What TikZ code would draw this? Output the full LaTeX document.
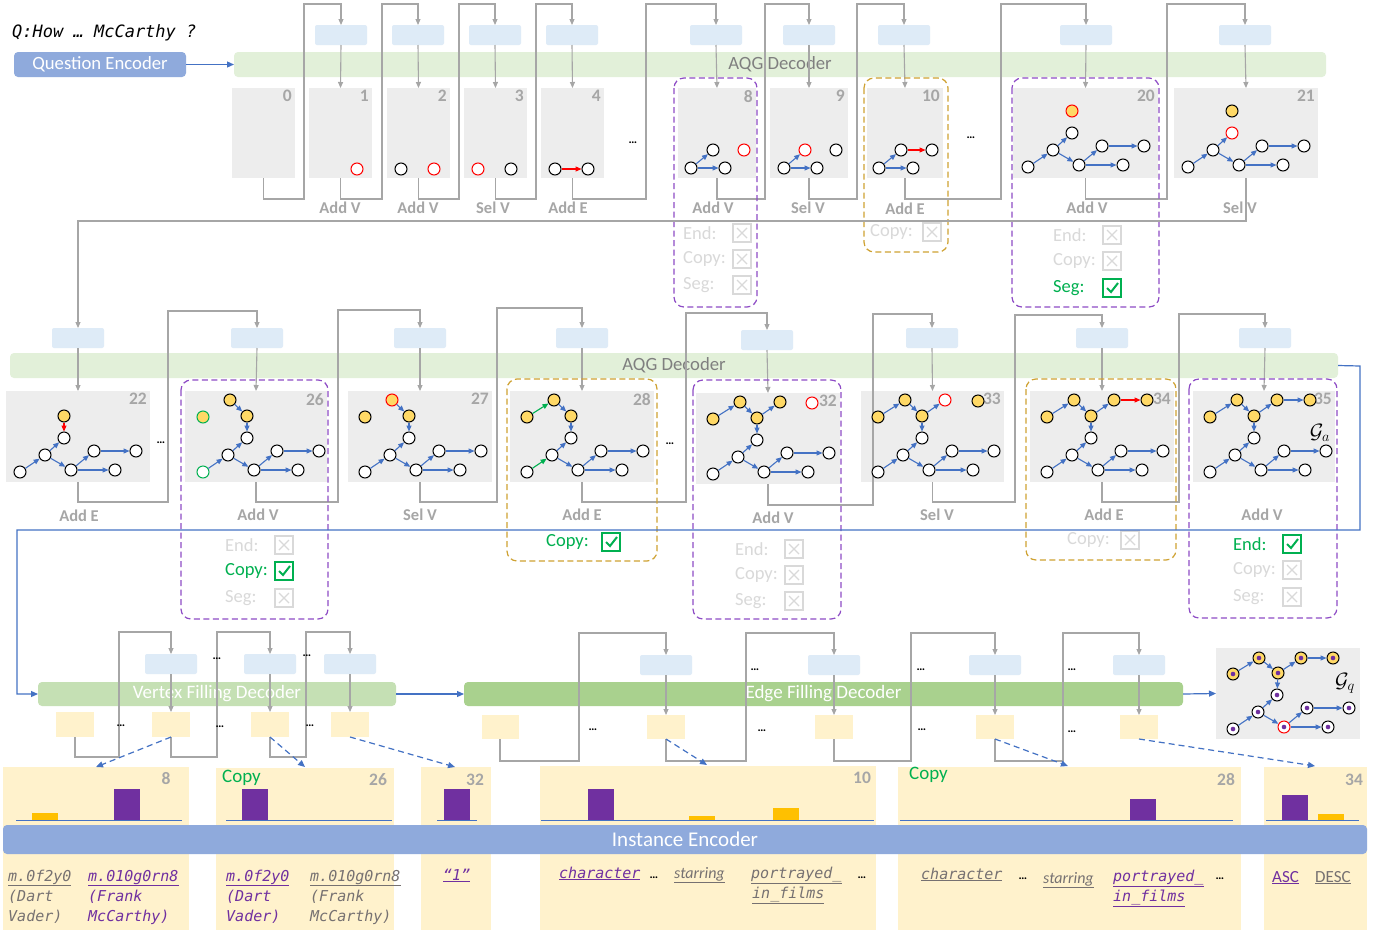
\documentclass[tikz,border=0pt]{standalone}
\usepackage{fontspec}
\setmainfont{Carlito}
\newfontfamily\codefont{DejaVu Sans Mono}
\usetikzlibrary{arrows.meta,calc}
\definecolor{cgray}{HTML}{EDEDED}
\definecolor{cblue}{HTML}{DEEBF7}
\definecolor{cgreen}{HTML}{E2F0D9}
\definecolor{cvfd}{HTML}{C5E0B4}
\definecolor{cefd}{HTML}{A9D18E}
\definecolor{cenc}{HTML}{8FAADC}
\definecolor{cyel}{HTML}{FFF2CC}
\definecolor{cnode}{HTML}{FFD966}
\definecolor{cpur}{HTML}{7030A0}
\definecolor{cdpur}{HTML}{8E4CC6}
\definecolor{cgold}{HTML}{FFC000}
\definecolor{cdgold}{HTML}{CFA232}
\definecolor{cchk}{HTML}{00B050}
\definecolor{carrow}{HTML}{4472C4}
\definecolor{cline}{HTML}{A6A6A6}
\definecolor{clabel}{HTML}{A6A6A6}
\definecolor{clight}{HTML}{D9D9D9}
\definecolor{ctxt}{HTML}{767171}
\definecolor{cband}{HTML}{7F7F7F}
\newcommand{\fsz}[1]{\fontsize{#1}{#1}\selectfont}
\tikzset{
  sbox/.style={fill=cgray, draw=none, anchor=north west, inner sep=0pt, outer sep=0pt},
  bbox/.style={fill=cblue, draw=none, rounded corners=2pt, minimum width=52pt, minimum height=20pt, inner sep=0pt, outer sep=0pt},
  ybox/.style={fill=cyel, draw=none, minimum width=38pt, minimum height=25pt, inner sep=0pt, outer sep=0pt},
  band/.style={draw=none, rounded corners=4pt, inner sep=0pt, outer sep=0pt, font=\fsz{18.7}},
  num/.style={font=\fsz{17.5}\bfseries, text=clabel, anchor=north east, inner sep=0pt},
  stlbl/.style={font=\fsz{16.5}\bfseries, text=clabel, inner sep=0pt},
  dots/.style={font=\fsz{12}\bfseries, inner sep=0pt},
  gv/.style={circle, draw=black, fill=white, line width=1pt, minimum size=12pt, inner sep=0pt},
  gvy/.style={gv, fill=cnode},
  gvp/.style={path picture={\fill[cpur] (path picture bounding box.center) circle (2.3pt);}},
  ge/.style={draw=carrow, line width=1.1pt, -{Triangle[length=6pt,width=5pt]}},
  ger/.style={ge, draw=red},
  geg/.style={ge, draw=cchk},
  gloop/.style={draw=cline, line width=1.1pt, -{Triangle[length=6pt,width=5pt]}},
  barr/.style={draw=carrow, line width=1.2pt, -{Triangle[length=7pt,width=6pt]}},
  darr/.style={draw=carrow, line width=1.2pt, dash pattern=on 6pt off 4pt, -{Triangle[length=7pt,width=6pt]}},
  pdash/.style={draw=cdpur, line width=1.2pt, dash pattern=on 6pt off 3.5pt, rounded corners=10pt},
  gdash/.style={draw=cdgold, line width=1.2pt, dash pattern=on 6pt off 3.5pt, rounded corners=10pt},
  chklbl/.style={font=\fsz{18.5}, anchor=west, inner sep=0pt},
  code/.style={font=\codefont\itshape\fsz{15}, inner sep=0pt, anchor=base west},
  gall/.style={}, s1/.style={}, s2/.style={}, s3/.style={}, s4/.style={},
  s5/.style={}, s6/.style={}, s7/.style={}, e12/.style={}
}
\newcommand{\stepbx}[6]{%
  \node[sbox, minimum width={#4-#2}, minimum height={#5-#3}] (#1) at (#2,#3) {};
  \node[num] (#1num) at (#4-3,#3+2) {#6};}
\newcommand{\panelbx}[5]{%
  \node[fill=cyel, draw=none, anchor=north west, inner sep=0pt, outer sep=0pt, minimum width={#4-#2}, minimum height={#5-#3}] (#1) at (#2,#3) {};}
\newcommand{\basegr}[4][]{%
  \begin{scope}[shift={(#3,#4)},#1]
  \node[gv,gall,s1] (#2n1) at (17,81) {};
  \node[gv,gall,s2] (#2n2) at (42,64) {};
  \node[gv,gall,s3] (#2n3) at (61,47) {};
  \node[gv,gall,s4] (#2n4) at (68,79) {};
  \node[gv,gall,s5] (#2n5) at (91,60) {};
  \node[gv,gall,s6] (#2n6) at (133,60) {};
  \node[gv,gall,s7] (#2n7) at (112,79) {};
  \draw[ge,e12] (#2n1) -- (#2n2);
  \draw[ge] (#2n2) -- (#2n3);
  \draw[ge] (#2n2) -- (#2n4);
  \draw[ge] (#2n4) -- (#2n5);
  \draw[ge] (#2n5) -- (#2n6);
  \draw[ge] (#2n4) -- (#2n7);
  \end{scope}}
\newcommand{\tops}[3]{\begin{scope}[shift={(#1,#2)}]#3\end{scope}}
\newcommand{\ckbx}[3]{%
  \ifnum#3=1
    \draw[cchk, line width=2pt] (#1-9,#2-9) rectangle (#1+9,#2+9);
    \draw[cchk, line width=2pt] (#1-5,#2) -- (#1-1,#2+4) -- (#1+6,#2-5);
  \else
    \draw[clight, line width=1.8pt] (#1-9,#2-9) rectangle (#1+9,#2+9);
    \draw[clight, line width=1.2pt] (#1-5,#2-5) -- (#1+5,#2+5) (#1-5,#2+5) -- (#1+5,#2-5);
  \fi}
\newcommand{\chkrow}[5]{%
  \ifnum#5=1 \node[chklbl, text=cchk] at (#1,#3) {#4};\else \node[chklbl, text=clight] at (#1,#3) {#4};\fi
  \ckbx{#2}{#3}{#5}}
\begin{document}
\begin{tikzpicture}[x=1pt,y=-1pt]
\useasboundingbox (0,0) rectangle (1385,935);
\fill[white] (0,0) rectangle (1385,935);

% ---------------- Row 1 ----------------
\node[font=\codefont\itshape\fsz{17}, anchor=west, inner sep=0pt] (q) at (12,33) {Q:How … McCarthy ?};
\node[band, fill=cenc, text=white, minimum width=172pt, minimum height=25pt] (qe) at (100,64.5) {Question Encoder};
\node[band, fill=cgreen, text=cband, minimum width=1092pt, minimum height=25pt] (aqg1) at (780,64.5) {AQG Decoder};
\draw[barr] (qe.east) -- (aqg1.west);

\stepbx{b0}{232}{88}{295}{178}{0}
\stepbx{b1}{309}{88}{372}{178}{1}
\stepbx{b2}{387}{88}{450}{178}{2}
\stepbx{b3}{464}{88}{527}{178}{3}
\stepbx{b4}{541}{88}{604}{178}{4}
\stepbx{b8}{678}{88}{756}{178}{8}
\stepbx{b9}{770}{88}{848}{178}{9}
\stepbx{b10}{867}{88}{943}{178}{10}
\stepbx{b20}{1013}{88}{1158}{178}{20}
\stepbx{b21}{1174}{88}{1318}{178}{21}

\node[bbox] (bb1) at (341,35) {};
\node[bbox] (bb2) at (418,35) {};
\node[bbox] (bb3) at (495,35) {};
\node[bbox] (bb4) at (572,35) {};
\node[bbox] (bb8) at (716,35) {};
\node[bbox] (bb9) at (809,35) {};
\node[bbox] (bb10) at (904,35) {};
\node[bbox] (bb20) at (1086,35) {};
\node[bbox] (bb21) at (1245,35) {};

\node[stlbl] (l1) at (340,208) {Add V};
\node[stlbl] (l2) at (418,208) {Add V};
\node[stlbl] (l3) at (493,208) {Sel V};
\node[stlbl] (l4) at (568,208) {Add E};
\node[stlbl] (l8) at (713,208) {Add V};
\node[stlbl] (l9) at (808,208) {Sel V};
\node[stlbl] (l10) at (905,209) {Add E};
\node[stlbl] (l20) at (1087,208) {Add V};
\node[stlbl] (l21) at (1240,208) {Sel V};
\node[dots] (d1) at (633,143) {…};
\node[dots] (d2) at (971,138) {…};

\draw[gloop] (b0.south) |- (304,199) -- (304,4) -| (bb1.north);
\draw[gloop] (b1.south) |- (382,199) -- (382,4) -| (bb2.north);
\draw[gloop] (b2.south) |- (459,199) -- (459,4) -| (bb3.north);
\draw[gloop] (b3.south) |- (536,199) -- (536,4) -| (bb4.north);
\draw[gloop] (b4.south) |- (646,199) -- (646,4) -| (bb8.north);
\draw[gloop] (b8.south) |- (765,199) -- (765,4) -| (bb9.north);
\draw[gloop] (b9.south) |- (857,199) -- (857,4) -| (bb10.north);
\draw[gloop] (b10.south) |- (1001,199) -- (1001,4) -| (bb20.north);
\draw[gloop] (b20.south) |- (1167,199) -- (1167,4) -| (bb21.north);
\foreach \k in {1,2,3,4,8,9,10,20,21} \draw[gloop] (bb\k.south) -- (b\k.north);

% row-1 graphs
\node[gv, draw=red] (g1a) at (357,169) {};
\node[gv] (g2a) at (401,169) {};
\node[gv, draw=red] (g2b) at (434,169) {};
\node[gv, draw=red] (g3a) at (478,169) {};
\node[gv] (g3b) at (511,169) {};
\node[gv] (g4a) at (555,169) {};
\node[gv] (g4b) at (588,169) {};
\draw[ger] (g4a) -- (g4b);
\node[gv] (g8a) at (691,168) {};
\node[gv] (g8b) at (713,150) {};
\node[gv] (g8c) at (725,168) {};
\node[gv, draw=red] (g8d) at (744,150) {};
\draw[ge] (g8a) -- (g8b);
\draw[ge] (g8a) -- (g8c);
\node[gv] (g9a) at (784,168) {};
\node[gv, draw=red] (g9b) at (805,150) {};
\node[gv] (g9c) at (817,168) {};
\node[gv] (g9d) at (836,150) {};
\draw[ge] (g9a) -- (g9b);
\draw[ge] (g9a) -- (g9c);
\node[gv] (g10a) at (879,168) {};
\node[gv] (g10b) at (901,150) {};
\node[gv] (g10c) at (913,168) {};
\node[gv] (g10d) at (932,150) {};
\draw[ge] (g10a) -- (g10b);
\draw[ge] (g10a) -- (g10c);
\draw[ger] (g10b) -- (g10d);
\basegr{g20-}{1011}{86}
\node[gvy, draw=red] (g20-yc) at (1072,111) {};
\basegr[s3/.style={draw=red}]{g21-}{1171}{86}
\node[gvy] (g21-yc) at (1232,111) {};

\chkrow{683}{742}{233}{End:}{0}
\chkrow{683}{742}{259}{Copy:}{0}
\chkrow{683}{742}{285}{Seg:}{0}
\chkrow{870}{932}{232}{Copy:}{0}
\chkrow{1053}{1112}{235}{End:}{0}
\chkrow{1053}{1112}{261}{Copy:}{0}
\chkrow{1053}{1112}{288}{Seg:}{1}
\draw[pdash] (674,78) rectangle (757,307);
\draw[gdash] (864,78) rectangle (948,252);
\draw[pdash] (1012,78) rectangle (1159,307);

% ---------------- Row 2 ----------------
\node[band, fill=cgreen, text=cband, minimum width=1328pt, minimum height=25pt] (aqg2) at (674,365.5) {AQG Decoder};

\stepbx{b22}{6}{391}{150}{482}{22}
\stepbx{b26}{185}{391}{327}{482}{26}
\stepbx{b27}{348}{391}{492}{482}{27}
\stepbx{b28}{510}{391}{654}{482}{28}
\stepbx{b32}{696}{393}{840}{484}{32}
\stepbx{b33}{861}{391}{1004}{482}{33}
\stepbx{b34}{1030}{391}{1174}{482}{34}
\stepbx{b35}{1193}{391}{1335}{482}{35}

\node[bbox] (bb22) at (78,338) {};
\node[bbox] (bb26) at (257,338) {};
\node[bbox] (bb27) at (420,338) {};
\node[bbox] (bb28) at (582,338) {};
\node[bbox] (bb32) at (767,340) {};
\node[bbox] (bb33) at (932,338) {};
\node[bbox] (bb34) at (1102,338) {};
\node[bbox] (bb35) at (1265,338) {};

\node[stlbl] (l22) at (79,516) {Add E};
\node[stlbl] (l26) at (258,515) {Add V};
\node[stlbl] (l27) at (420,515) {Sel V};
\node[stlbl] (l28) at (582,515) {Add E};
\node[stlbl] (l32) at (773,518) {Add V};
\node[stlbl] (l33) at (937,515) {Sel V};
\node[stlbl] (l34) at (1104,515) {Add E};
\node[stlbl] (l35) at (1262,515) {Add V};
\node[dots] (d3) at (161,443) {…};
\node[dots] (d4) at (670,444) {…};

\coordinate (t21) at (78,221);
\draw[gloop] (b21.south) |- (t21) -- (bb22.north);
\draw[gloop] (b22.south) |- (168,502) -- (168,311) -| (bb26.north);
\draw[gloop] (b26.south) |- (338,502) -- (338,310) -| (bb27.north);
\draw[gloop] (b27.south) |- (497,502) -- (497,308) -| (bb28.north);
\draw[gloop] (b28.south) |- (686,502) -- (686,313) -| (bb32.north);
\draw[gloop] (b32.south) |- (873,505) -- (873,314) -| (bb33.north);
\draw[gloop] (b33.south) |- (1015,502) -- (1015,315) -| (bb34.north);
\draw[gloop] (b34.south) |- (1179,502) -- (1179,314) -| (bb35.north);
\foreach \k in {22,26,27,28,32,33,34,35} \draw[gloop] (bb\k.south) -- (b\k.north);

% row-2 graphs
\basegr{g22-}{3}{391}
\node[gvy] (g22-yc) at (64,416) {};
\draw[ger] (g22-yc) -- (g22-n3);

\basegr[s1/.style={draw=cchk}]{g26-}{186}{391}
\tops{186}{391}{
  \node[gvy, draw=cchk] (g26-ya) at (17,26) {};
  \node[gvy] (g26-yb) at (44,9) {};
  \node[gvy] (g26-yc) at (61,25) {};
  \draw[ge] (g26-yb) -- (g26-yc);
  \draw[ge] (g26-yc) -- (g26-n3);}

\basegr{g27-}{348}{391}
\tops{348}{391}{
  \node[gvy] (g27-ya) at (17,26) {};
  \node[gvy, draw=red] (g27-yb) at (44,9) {};
  \node[gvy] (g27-yc) at (61,25) {};
  \draw[ge] (g27-yb) -- (g27-yc);
  \draw[ge] (g27-yc) -- (g27-n3);}

\basegr[e12/.style={draw=cchk}]{g28-}{510}{391}
\tops{510}{391}{
  \node[gvy] (g28-ya) at (17,26) {};
  \node[gvy] (g28-yb) at (44,9) {};
  \node[gvy] (g28-yc) at (61,25) {};
  \draw[geg] (g28-ya) -- (g28-yb);
  \draw[ge] (g28-yb) -- (g28-yc);
  \draw[ge] (g28-yc) -- (g28-n3);}

\basegr{g32-}{696}{393}
\tops{696}{393}{
  \node[gvy] (g32-ya) at (17,26) {};
  \node[gvy] (g32-yb) at (44,9) {};
  \node[gvy] (g32-yc) at (61,25) {};
  \node[gvy] (g32-yd) at (84,9) {};
  \node[gv, draw=red] (g32-ye) at (116,10) {};
  \draw[ge] (g32-ya) -- (g32-yb);
  \draw[ge] (g32-yb) -- (g32-yc);
  \draw[ge] (g32-yc) -- (g32-yd);
  \draw[ge] (g32-yc) -- (g32-n3);}

\basegr{g33-}{861}{391}
\tops{861}{391}{
  \node[gvy] (g33-ya) at (17,26) {};
  \node[gvy] (g33-yb) at (44,9) {};
  \node[gvy] (g33-yc) at (61,25) {};
  \node[gv, draw=red] (g33-yd) at (84,9) {};
  \node[gvy] (g33-ye) at (117,10) {};
  \draw[ge] (g33-ya) -- (g33-yb);
  \draw[ge] (g33-yb) -- (g33-yc);
  \draw[ge] (g33-yc) -- (g33-yd);
  \draw[ge] (g33-yc) -- (g33-n3);}

\basegr{g34-}{1030}{391}
\tops{1030}{391}{
  \node[gvy] (g34-ya) at (17,26) {};
  \node[gvy] (g34-yb) at (44,9) {};
  \node[gvy] (g34-yc) at (61,25) {};
  \node[gvy] (g34-yd) at (84,9) {};
  \node[gvy] (g34-ye) at (117,9) {};
  \draw[ge] (g34-ya) -- (g34-yb);
  \draw[ge] (g34-yb) -- (g34-yc);
  \draw[ge] (g34-yc) -- (g34-yd);
  \draw[ge] (g34-yc) -- (g34-n3);
  \draw[ger] (g34-yd) -- (g34-ye);}

\basegr{g35-}{1193}{391}
\tops{1193}{391}{
  \node[gvy] (g35-ya) at (17,26) {};
  \node[gvy] (g35-yb) at (44,9) {};
  \node[gvy] (g35-yc) at (61,25) {};
  \node[gvy] (g35-yd) at (84,9) {};
  \node[gvy] (g35-ye) at (117,9) {};
  \draw[ge] (g35-ya) -- (g35-yb);
  \draw[ge] (g35-yb) -- (g35-yc);
  \draw[ge] (g35-yc) -- (g35-yd);
  \draw[ge] (g35-yc) -- (g35-n3);
  \draw[ge] (g35-yd) -- (g35-ye);}
\node[font=\fsz{22}, inner sep=0pt] (ga) at (1320,433) {$\mathcal{G}_a$};

\chkrow{225}{284}{545}{End:}{0}
\chkrow{225}{284}{571}{Copy:}{1}
\chkrow{225}{284}{598}{Seg:}{0}
\chkrow{546}{611}{542}{Copy:}{1}
\chkrow{735}{794}{549}{End:}{0}
\chkrow{735}{794}{575}{Copy:}{0}
\chkrow{735}{794}{601}{Seg:}{0}
\chkrow{1067}{1130}{540}{Copy:}{0}
\chkrow{1233}{1292}{544}{End:}{1}
\chkrow{1233}{1292}{570}{Copy:}{0}
\chkrow{1233}{1292}{597}{Seg:}{0}
\draw[pdash] (181,380) rectangle (328,619);
\draw[gdash] (507,379) rectangle (657,561);
\draw[pdash] (693,380) rectangle (841,619);
\draw[gdash] (1026,379) rectangle (1176,560);
\draw[pdash] (1189,379) rectangle (1337,618);

% ---------------- Bottom ----------------
\node[band, fill=cvfd, text=white, font=\fsz{19}, minimum width=358pt, minimum height=24pt] (vfd) at (217,694) {Vertex Filling Decoder};
\node[band, fill=cefd, text=white, font=\fsz{19}, minimum width=719pt, minimum height=24pt] (efd) at (823.5,694) {Edge Filling Decoder};
\node[sbox, minimum width=144pt, minimum height=91pt] (gq) at (1216,648) {};
\coordinate (r1) at (1360,366);
\coordinate (r2) at (1360,530);
\coordinate (r3) at (17,530);
\draw[barr] (aqg2.east) -- (r1) -- (r2) -- (r3) |- (vfd.west);
\draw[barr] (vfd.east) -- (efd.west);
\draw[barr] (efd.east) -- (gq.west);

\node[bbox] (vb1) at (171,664) {};
\node[bbox] (vb2) at (270,664) {};
\node[bbox] (vb3) at (350,664) {};
\node[ybox] (vy1) at (75,724.5) {};
\node[ybox] (vy2) at (171,724.5) {};
\node[ybox] (vy3) at (270,724.5) {};
\node[ybox] (vy4) at (350,724.5) {};
\draw[gloop] (vy1.south) |- (119,757) -- (119,632) -| (vb1.north);
\draw[gloop] (vy2.south) |- (217,757) -- (217,632) -| (vb2.north);
\draw[gloop] (vy3.south) |- (306,757) -- (306,632) -| (vb3.north);
\draw[gloop] (vb1.south) -- (vy2.north);
\draw[gloop] (vb2.south) -- (vy3.north);
\draw[gloop] (vb3.south) -- (vy4.north);
\node[dots] (d5) at (217,659) {…};
\node[dots] (d6) at (307,656) {…};
\node[dots] (d7) at (121,726) {…};
\node[dots] (d8) at (220,727) {…};
\node[dots] (d9) at (310,726) {…};

\node[bbox] (eb1) at (666,665) {};
\node[bbox] (eb2) at (834,665) {};
\node[bbox] (eb3) at (995,665) {};
\node[bbox] (eb4) at (1139,665) {};
\node[ybox, minimum width=37pt, minimum height=24pt] (ey1) at (500,727) {};
\node[ybox, minimum width=38pt, minimum height=24pt] (ey2) at (666,727) {};
\node[ybox, minimum width=38pt, minimum height=24pt] (ey3) at (834,727) {};
\node[ybox, minimum width=38pt, minimum height=24pt] (ey4) at (995,727) {};
\node[ybox, minimum width=38pt, minimum height=24pt] (ey5) at (1139,727) {};
\draw[gloop] (ey1.south) |- (579,761) -- (579,633) -| (eb1.north);
\draw[gloop] (ey2.south) |- (746,761) -- (746,633) -| (eb2.north);
\draw[gloop] (ey3.south) |- (911,761) -- (911,633) -| (eb3.north);
\draw[gloop] (ey4.south) |- (1063,761) -- (1063,633) -| (eb4.north);
\draw[gloop] (eb1.south) -- (ey2.north);
\draw[gloop] (eb2.south) -- (ey3.north);
\draw[gloop] (eb3.south) -- (ey4.north);
\draw[gloop] (eb4.south) -- (ey5.north);
\node[dots] (d10) at (755,670) {…};
\node[dots] (d11) at (921,670) {…};
\node[dots] (d12) at (1072,670) {…};
\node[dots] (d13) at (593,730) {…};
\node[dots] (d14) at (762,731) {…};
\node[dots] (d15) at (922,730) {…};
\node[dots] (d16) at (1072,732) {…};

% Gq graph
\basegr[gall/.style={gvp}, s4/.style={draw=red}]{gq-}{1216}{648}
\tops{1216}{648}{
  \node[gvy,gvp] (gq-ya) at (17,26) {};
  \node[gvy,gvp] (gq-yb) at (43,10) {};
  \node[gvy,gvp] (gq-yc) at (62,25) {};
  \node[gvy,gvp] (gq-yd) at (85,10) {};
  \node[gvy,gvp] (gq-ye) at (117,10) {};
  \draw[ge] (gq-ya) -- (gq-yb);
  \draw[ge] (gq-yb) -- (gq-yc);
  \draw[ge] (gq-yc) -- (gq-yd);
  \draw[ge] (gq-yd) -- (gq-ye);
  \draw[ge] (gq-yc) -- (gq-n3);}
\node[font=\fsz{22}, inner sep=0pt] (gql) at (1345,683) {$\mathcal{G}_q$};

% panels
\panelbx{pA}{3}{767}{189}{930}
\panelbx{pB}{216}{768}{394}{930}
\panelbx{pC}{421}{767}{491}{930}
\panelbx{pD}{540}{766}{876}{930}
\panelbx{pE}{898}{767}{1241}{930}
\panelbx{pF}{1264}{767}{1367}{930}
\node[num, anchor=center] (nA) at (166,779) {8};
\node[num, anchor=center] (nB) at (378,780) {26};
\node[num, anchor=center] (nC) at (475,780) {32};
\node[num, anchor=center] (nD) at (862,778) {10};
\node[num, anchor=center] (nE) at (1226,780) {28};
\node[num, anchor=center] (nF) at (1354,780) {34};
\node[font=\fsz{19}, text=cchk, anchor=west, inner sep=0pt] (cpB) at (222,778) {Copy};
\node[font=\fsz{19}, text=cchk, anchor=west, inner sep=0pt] (cpE) at (909,775) {Copy};

\coordinate (dA) at (96,767);
\coordinate (dB) at (305,767);
\coordinate (dC) at (455,767);
\coordinate (dD) at (707,765);
\coordinate (dE) at (1068,766);
\coordinate (dF) at (1315,766);
\draw[darr] (vy2.south) -- (dA);
\draw[darr] (vy3.south) -- (dB);
\draw[darr] (vy4.south) -- (dC);
\draw[darr] (ey2.south) -- (dD);
\draw[darr] (ey4.south) -- (dE);
\draw[darr] (ey5.south) -- (dF);

% bars
\fill[cgold] (32,813) rectangle (58,820);
\fill[cpur] (114,789) rectangle (140,820);
\draw[carrow, line width=1pt] (16,820) -- (182,820);
\fill[cpur] (242,789) rectangle (268,820);
\draw[carrow, line width=1pt] (226,820) -- (392,820);
\fill[cpur] (444,789) rectangle (470,820);
\draw[carrow, line width=1pt] (437,820) -- (477,820);
\fill[cpur] (588,789) rectangle (614,820);
\fill[cgold] (689,816) rectangle (715,820);
\fill[cgold] (773,808) rectangle (799,820);
\draw[carrow, line width=1pt] (541,820) -- (874,820);
\fill[cpur] (1130,799) rectangle (1156,820);
\draw[carrow, line width=1pt] (900,820) -- (1233,820);
\fill[cpur] (1282,795) rectangle (1308,820);
\fill[cgold] (1318,814) rectangle (1344,820);
\draw[carrow, line width=1pt] (1266,820) -- (1359,820);

\node[band, fill=cenc, text=white, font=\fsz{21}, minimum width=1364pt, minimum height=29pt] (ie) at (685,839.5) {Instance Encoder};

% panel texts
\node[code, text=ctxt] (tA1) at (8,881) {\underline{m.0f2y0}};
\node[code, text=ctxt] (tA2) at (8,901) {(Dart};
\node[code, text=ctxt] (tA3) at (8,921) {Vader)};
\node[code, text=cpur] (tA4) at (88,881) {\underline{m.010g0rn8}};
\node[code, text=cpur] (tA5) at (88,901) {(Frank};
\node[code, text=cpur] (tA6) at (88,921) {McCarthy)};
\node[code, text=cpur] (tB1) at (226,881) {\underline{m.0f2y0}};
\node[code, text=cpur] (tB2) at (226,901) {(Dart};
\node[code, text=cpur] (tB3) at (226,921) {Vader)};
\node[code, text=ctxt] (tB4) at (310,881) {\underline{m.010g0rn8}};
\node[code, text=ctxt] (tB5) at (310,901) {(Frank};
\node[code, text=ctxt] (tB6) at (310,921) {McCarthy)};
\node[code, text=cpur] (tC1) at (443,880) {\underline{“1”}};
\node[code, text=cpur] (tD1) at (559,878) {\underline{character}};
\node[dots] (tD2) at (654,878) {…};
\node[font=\fsz{16}\itshape, text=ctxt, inner sep=0pt, anchor=base west] (tD3) at (674,878) {\underline{starring}};
\node[code, text=ctxt] (tD4) at (751,878) {\underline{portrayed\_}};
\node[code, text=ctxt] (tD5) at (752,898) {\underline{in\_films}};
\node[dots] (tD6) at (862,878) {…};
\node[code, text=ctxt] (tE1) at (921,879) {\underline{character}};
\node[dots] (tE2) at (1023,879) {…};
\node[font=\fsz{16}\itshape, text=ctxt, inner sep=0pt, anchor=base west] (tE3) at (1043,883) {\underline{starring}};
\node[code, text=cpur] (tE4) at (1113,881) {\underline{portrayed\_}};
\node[code, text=cpur] (tE5) at (1113,901) {\underline{in\_films}};
\node[dots] (tE6) at (1220,879) {…};
\node[font=\fsz{17}, text=cpur, inner sep=0pt, anchor=base west] (tF1) at (1272,882) {\underline{ASC}};
\node[font=\fsz{17}, text=ctxt, inner sep=0pt, anchor=base west] (tF2) at (1315,882) {\underline{DESC}};
\end{tikzpicture}
\end{document}
